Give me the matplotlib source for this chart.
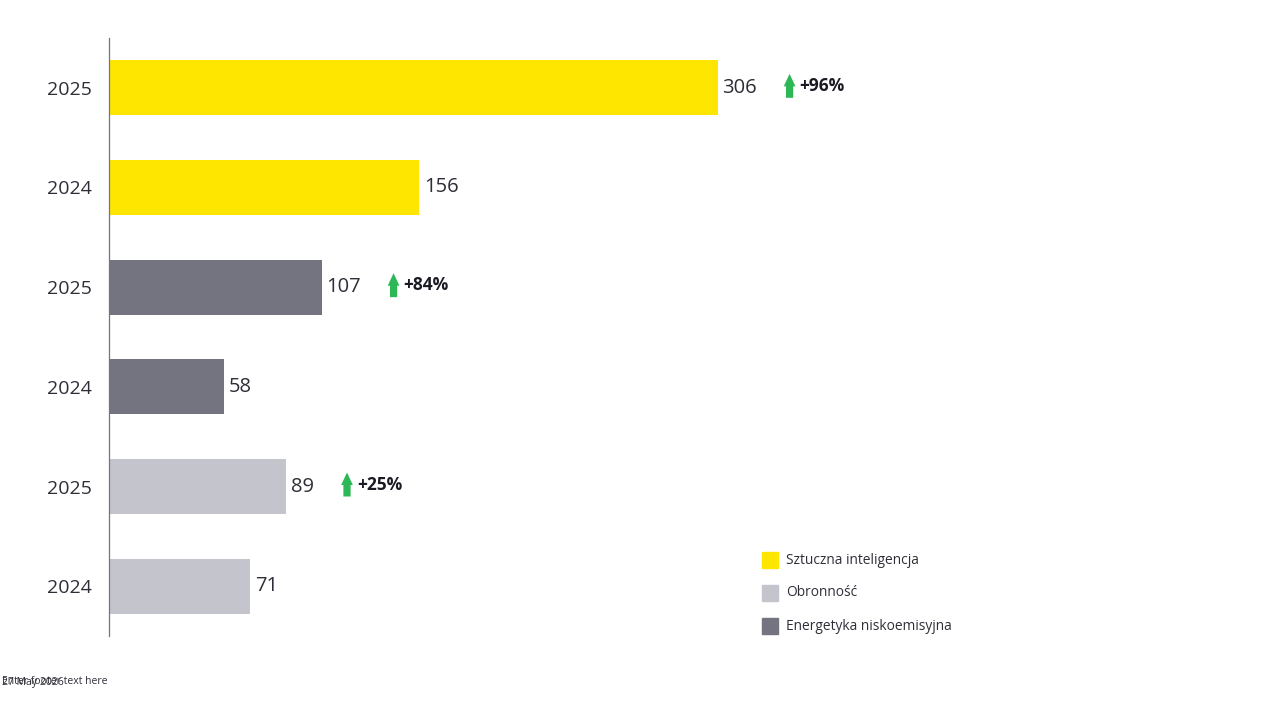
import matplotlib.pyplot as plt
from matplotlib.patches import Rectangle
from matplotlib.transforms import offset_copy

# Data
year_labels = ["2024", "2025", "2024", "2025", "2024", "2025"]
values = [71, 89, 58, 107, 156, 306]
sectors = ["Obronność", "Obronność", "Energetyka niskoemisyjna", "Energetyka niskoemisyjna",
           "Sztuczna inteligencja", "Sztuczna inteligencja"]
growth_labels = ["+25%", "+84%", "+96%"]
growth_rows = [1, 3, 5]
legend_labels = ["Sztuczna inteligencja", "Obronność", "Energetyka niskoemisyjna"]

colors = {
    "Sztuczna inteligencja": "#FFE600",
    "Obronność": "#C4C4CD",
    "Energetyka niskoemisyjna": "#747480",
}

plt.rcParams['font.family'] = ['Open Sans', 'DejaVu Sans']

W, H = 1280, 720
fig = plt.figure(figsize=(12.8, 7.2), dpi=100)
ax = fig.add_axes([109 / W, 1 - 636 / H, (1000 - 109) / W, (636 - 38) / H])

y = range(len(values))
ax.barh(y, values, height=0.55, color=[colors[s] for s in sectors])
ax.set_xlim(0, (1000 - 109) / 1.99)
ax.set_ylim(-0.5, len(values) - 0.5)

for i, v in enumerate(values):
    ax.text(v + 2.3, i, str(v), va='center', ha='left', fontsize=14.5,
            color='#2E2E38')

# growth arrows (offsets in pixels from the row centre)
arrow_bottom = offset_copy(ax.transData, fig=fig, y=-10, units='dots')
arrow_top = offset_copy(ax.transData, fig=fig, y=14, units='dots')
for row, lab in zip(growth_rows, growth_labels):
    v = values[row]
    xa = v + (30.6 if row == 1 else 36)
    ax.annotate('', xy=(xa, row), xycoords=arrow_top,
                xytext=(xa, row), textcoords=arrow_bottom,
                arrowprops=dict(arrowstyle='simple,head_length=0.45,head_width=0.42,tail_width=0.26',
                                mutation_scale=20, color='#2DB757', lw=0,
                                shrinkA=0, shrinkB=0))
    ax.text(xa + 5, row + 0.02, lab, va='center', ha='left', fontsize=12.5,
            fontweight='bold', color='#1A1A24')

ax.set_yticks(list(y))
ax.set_yticklabels(year_labels, fontsize=14, color='#2E2E38')
ax.tick_params(axis='y', length=0, pad=12)
ax.set_xticks([])
for s in ['top', 'right', 'bottom']:
    ax.spines[s].set_visible(False)
ax.spines['left'].set_color('#747480')
ax.spines['left'].set_linewidth(0.9)

# Legend
for k, lab in enumerate(legend_labels):
    top = 552 + k * 33
    fig.patches.append(Rectangle((762 / W, 1 - (top + 16) / H), 16 / W, 16 / H,
                                 transform=fig.transFigure, color=colors[lab]))
    fig.text(786 / W, 1 - (top + 8) / H, lab, va='center', ha='left',
             fontsize=9.9, color='#2E2E38')

# Footer (both placeholders sit on top of each other, as in the original)
fig.text(2 / W, 1 - 682 / H, "Enter footer text here", fontsize=7.5, color='#2E2E38', va='center')
fig.text(2 / W, 1 - 682 / H, "27 May 2026", fontsize=7.5, color='#2E2E38', va='center')

fig.savefig('out.png', dpi=100)
